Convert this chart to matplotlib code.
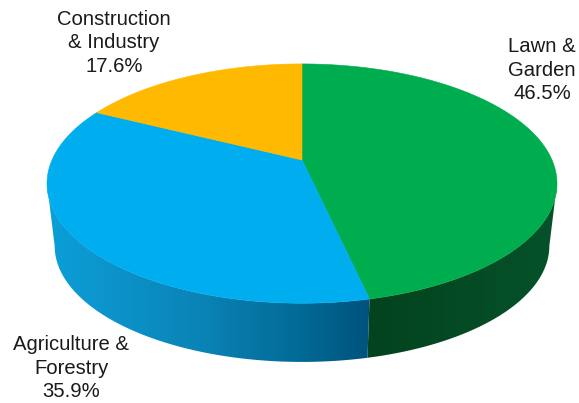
import numpy as np
import matplotlib
matplotlib.use("Agg")
import matplotlib.pyplot as plt
from matplotlib.colors import LinearSegmentedColormap, to_rgb
from matplotlib.patches import Polygon

plt.rcParams['font.family'] = ['Liberation Sans', 'DejaVu Sans']

sectors = ["Lawn &\nGarden", "Agriculture &\nForestry", "Construction\n& Industry"]
shares = [46.5, 35.9, 17.6]
top_colors = ["#00AD4E", "#00AEEF", "#FFB900"]
label_pos = [(542, 70), (71, 368), (114, 43)]

# side wall shading, left to right along x
wall_shades = {
    0: [(355, "#03421D"), (560, "#05522A")],
    1: [(45, "#0C9FD9"), (200, "#0A84B6"), (300, "#026A96"), (372, "#00527C")],
}

# camera setup for the tilted disc
cx, cy = 302, 160
rx, ry, persp = 250, 115, 0.197
depth, shrink = 63, 0.97


def rim(theta, drop=0, scale=1.0):
    # theta in degrees, clockwise from the back of the disc
    t = np.radians(theta)
    u, v = np.sin(t), -np.cos(t)
    s = scale / (1 - persp * v)
    return cx + rx * u * s, cy + drop + ry * v * s


fig = plt.figure(figsize=(5.79, 4.03), dpi=100)
ax = fig.add_axes([0, 0, 1, 1])
ax.set_xlim(0, 579)
ax.set_ylim(403, 0)
ax.axis("off")

edges = np.concatenate([[0], np.cumsum(shares) / np.sum(shares) * 360])
tangent = np.degrees(np.arccos(-persp))

# front wall: a horizontal gradient image clipped to each wall outline
for i in range(len(shares)):
    lo = max(edges[i], tangent)
    hi = min(edges[i + 1], 360 - tangent)
    if hi <= lo or i not in wall_shades:
        continue
    th = np.linspace(lo, hi, 200)
    tx, ty = rim(th)
    bx, by = rim(th, depth, shrink)
    outline = Polygon(np.c_[np.r_[tx, bx[::-1]], np.r_[ty, by[::-1]]],
                      closed=True, transform=ax.transData, fc="none", ec="none")
    ax.add_patch(outline)
    stops = wall_shades[i]
    x0, x1 = stops[0][0], stops[-1][0]
    cmap = LinearSegmentedColormap.from_list(
        "wall", [((x - x0) / (x1 - x0), to_rgb(c)) for x, c in stops])
    im = ax.imshow(np.linspace(0, 1, 256)[None, :], cmap=cmap, aspect="auto",
                   extent=[x0, x1, 403, 0], zorder=1)
    im.set_clip_path(outline)

ax.set_xlim(0, 579)
ax.set_ylim(403, 0)

# top face
for i in range(len(shares)):
    th = np.linspace(edges[i], edges[i + 1], 200)
    x, y = rim(th)
    ax.fill(np.r_[cx, x], np.r_[cy, y], color=top_colors[i], lw=0.4, zorder=2)

for name, val, (lx, ly) in zip(sectors, shares, label_pos):
    ax.text(lx, ly, f"{name}\n{val}%", ha="center", va="center", fontsize=14.6,
            color="#1a1a1a", linespacing=1.28, zorder=3)

fig.savefig("out.png", dpi=100)
